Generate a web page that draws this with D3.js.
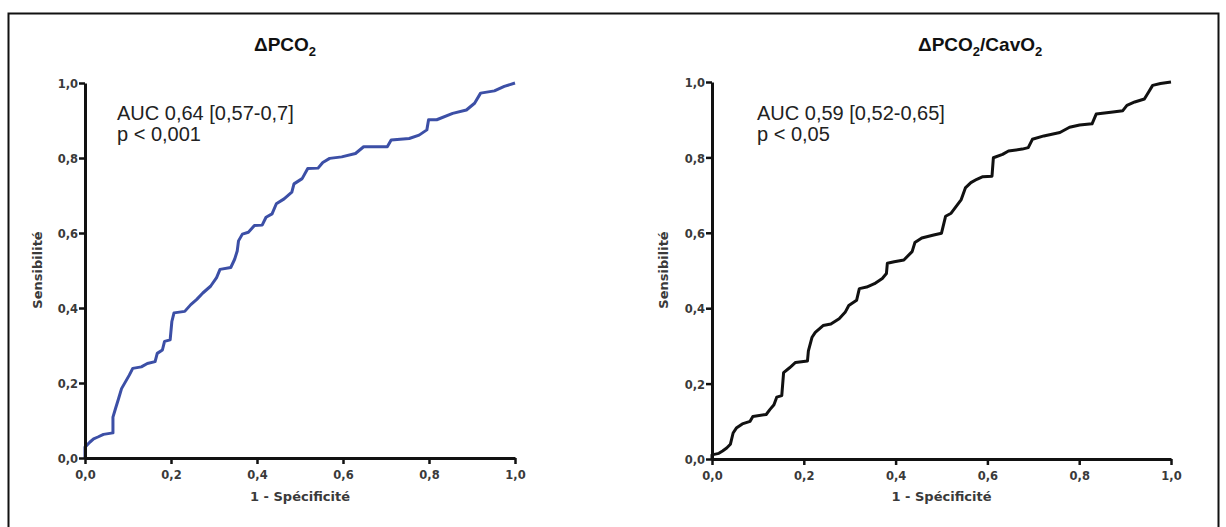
<!DOCTYPE html>
<html>
<head>
<meta charset="utf-8">
<script src="https://cdn.jsdelivr.net/npm/d3@7/dist/d3.min.js"></script>
<style>
  html, body { margin: 0; padding: 0; background: #fff; }
  svg { display: block; }
</style>
</head>
<body>
<svg id="chart" width="1226" height="527"></svg>
<script>
// ---- data ----
const tickValues = [0, 0.2, 0.4, 0.6, 0.8, 1.0];
const tickLabels = ["0,0", "0,2", "0,4", "0,6", "0,8", "1,0"];

const leftFpr = [0, 0, 0.011, 0.02, 0.03, 0.043, 0.065, 0.065, 0.071, 0.078, 0.085, 0.094, 0.103, 0.111, 0.131, 0.145, 0.163, 0.168, 0.18, 0.185, 0.198, 0.202, 0.207, 0.232, 0.246, 0.26, 0.274, 0.292, 0.306, 0.314, 0.339, 0.348, 0.354, 0.357, 0.366, 0.38, 0.394, 0.412, 0.421, 0.435, 0.445, 0.463, 0.481, 0.486, 0.505, 0.518, 0.542, 0.553, 0.569, 0.597, 0.629, 0.648, 0.703, 0.712, 0.754, 0.777, 0.795, 0.799, 0.818, 0.855, 0.887, 0.906, 0.92, 0.952, 0.975, 1.0];
const leftTpr = [0, 0.029, 0.042, 0.051, 0.056, 0.063, 0.067, 0.109, 0.132, 0.158, 0.185, 0.203, 0.221, 0.239, 0.243, 0.252, 0.257, 0.279, 0.288, 0.311, 0.315, 0.364, 0.387, 0.391, 0.409, 0.423, 0.44, 0.458, 0.481, 0.503, 0.508, 0.53, 0.552, 0.579, 0.597, 0.602, 0.62, 0.621, 0.642, 0.651, 0.678, 0.691, 0.709, 0.731, 0.745, 0.772, 0.773, 0.788, 0.799, 0.803, 0.812, 0.83, 0.83, 0.848, 0.852, 0.861, 0.875, 0.902, 0.902, 0.919, 0.928, 0.946, 0.973, 0.979, 0.991, 1.0];

const rightFpr = [0, 0, 0.015, 0.023, 0.032, 0.04, 0.046, 0.053, 0.066, 0.083, 0.089, 0.118, 0.126, 0.135, 0.141, 0.152, 0.156, 0.169, 0.182, 0.208, 0.21, 0.218, 0.225, 0.242, 0.259, 0.277, 0.29, 0.298, 0.315, 0.321, 0.337, 0.354, 0.371, 0.38, 0.382, 0.397, 0.418, 0.436, 0.442, 0.457, 0.483, 0.5, 0.509, 0.521, 0.532, 0.543, 0.552, 0.564, 0.577, 0.59, 0.61, 0.613, 0.633, 0.646, 0.676, 0.689, 0.698, 0.723, 0.758, 0.779, 0.801, 0.828, 0.837, 0.869, 0.895, 0.904, 0.921, 0.942, 0.951, 0.96, 0.977, 1.0];
const rightTpr = [0, 0.011, 0.015, 0.021, 0.029, 0.039, 0.069, 0.082, 0.093, 0.1, 0.113, 0.118, 0.131, 0.144, 0.164, 0.168, 0.229, 0.242, 0.256, 0.26, 0.287, 0.323, 0.336, 0.354, 0.358, 0.372, 0.389, 0.407, 0.421, 0.452, 0.456, 0.465, 0.479, 0.492, 0.519, 0.523, 0.528, 0.55, 0.574, 0.586, 0.594, 0.599, 0.644, 0.652, 0.67, 0.688, 0.719, 0.733, 0.742, 0.749, 0.75, 0.799, 0.808, 0.817, 0.822, 0.826, 0.848, 0.857, 0.866, 0.88, 0.886, 0.889, 0.915, 0.92, 0.924, 0.938, 0.947, 0.955, 0.973, 0.991, 0.996, 1.0];

const panels = [
  { title: ["ΔPCO", "2"], titleRest: null, auc: "AUC 0,64 [0,57-0,7]", p: "p < 0,001",
    fpr: leftFpr, tpr: leftTpr, color: "#3c4fa6",
    x0: 85, x1: 515, y0: 458, y1: 83, titleX: 254, yTitleX: 37, textX: 117 },
  { title: ["ΔPCO", "2"], titleRest: ["/CavO", "2"], auc: "AUC 0,59 [0,52-0,65]", p: "p < 0,05",
    fpr: rightFpr, tpr: rightTpr, color: "#111111",
    x0: 712, x1: 1171, y0: 459, y1: 82, titleX: 918, yTitleX: 663, textX: 757 }
];

// ---- drawing ----
const svg = d3.select("#chart");

svg.append("rect")
  .attr("x", 8.5).attr("y", 13.5)
  .attr("width", 1210).attr("height", 530)
  .attr("fill", "none").attr("stroke", "#111").attr("stroke-width", 2);

const fmt = v => tickLabels[tickValues.indexOf(v)];

panels.forEach(pn => {
  const x = d3.scaleLinear().domain([0, 1]).range([pn.x0, pn.x1]);
  const y = d3.scaleLinear().domain([0, 1]).range([pn.y0, pn.y1]);
  const g = svg.append("g");

  // curve
  const pts = pn.fpr.map((f, i) => [f, pn.tpr[i]]);
  const line = d3.line().x(d => x(d[0])).y(d => y(d[1])).curve(d3.curveLinear);
  g.append("path").datum(pts)
    .attr("d", line)
    .attr("fill", "none")
    .attr("stroke", pn.color)
    .attr("stroke-width", 3)
    .attr("stroke-linejoin", "round");

  // axes
  const ax = g.append("g").attr("transform", `translate(0,${pn.y0})`)
    .call(d3.axisBottom(x).tickValues(tickValues).tickFormat(fmt).tickSize(6).tickSizeOuter(0));
  const ay = g.append("g").attr("transform", `translate(${pn.x0},0)`)
    .call(d3.axisLeft(y).tickValues(tickValues).tickFormat(fmt).tickSize(6).tickSizeOuter(0));
  [ax, ay].forEach(a => {
    a.select(".domain").attr("stroke", "#111").attr("stroke-width", 3);
    a.selectAll(".tick line").attr("stroke", "#111").attr("stroke-width", 2.5);
    a.selectAll(".tick text")
      .attr("fill", "#3a3a3a")
      .style("font-family", "'DejaVu Sans', sans-serif")
      .style("font-weight", "bold")
      .style("font-size", "11.5px");
  });
  ax.selectAll(".tick text").attr("dy", 0).attr("y", 21);
  ay.selectAll(".tick text").attr("x", -7).attr("dy", "0.4em");

  // axis titles
  g.append("text")
    .attr("x", (pn.x0 + pn.x1) / 2).attr("y", 501)
    .attr("text-anchor", "middle")
    .attr("fill", "#3a3a3a")
    .style("font-family", "'DejaVu Sans', sans-serif")
    .style("font-weight", "bold").style("font-size", "13px")
    .text("1 - Spécificité");
  g.append("text")
    .attr("transform", `translate(${pn.yTitleX + 5},270) rotate(-90)`)
    .attr("text-anchor", "middle")
    .attr("fill", "#3a3a3a")
    .style("font-family", "'DejaVu Sans', sans-serif")
    .style("font-weight", "bold").style("font-size", "13px")
    .text("Sensibilité");

  // panel title
  const t = g.append("text")
    .attr("x", pn.titleX).attr("y", 51)
    .attr("fill", "#111")
    .style("font-family", "'Liberation Sans', Arial, sans-serif")
    .style("font-weight", "bold").style("font-size", "19px");
  t.append("tspan").text(pn.title[0]);
  t.append("tspan").attr("dy", 5).style("font-size", "13px").text(pn.title[1]);
  if (pn.titleRest) {
    t.append("tspan").attr("dy", -5).text(pn.titleRest[0]);
    t.append("tspan").attr("dy", 5).style("font-size", "13px").text(pn.titleRest[1]);
  }

  // annotation
  const ann = g.append("text")
    .attr("fill", "#222")
    .style("font-family", "'Liberation Sans', Arial, sans-serif")
    .style("font-size", "20px");
  ann.append("tspan").attr("x", pn.textX).attr("y", 120).text(pn.auc);
  ann.append("tspan").attr("x", pn.textX).attr("y", 141).text(pn.p);
});
</script>
</body>
</html>
